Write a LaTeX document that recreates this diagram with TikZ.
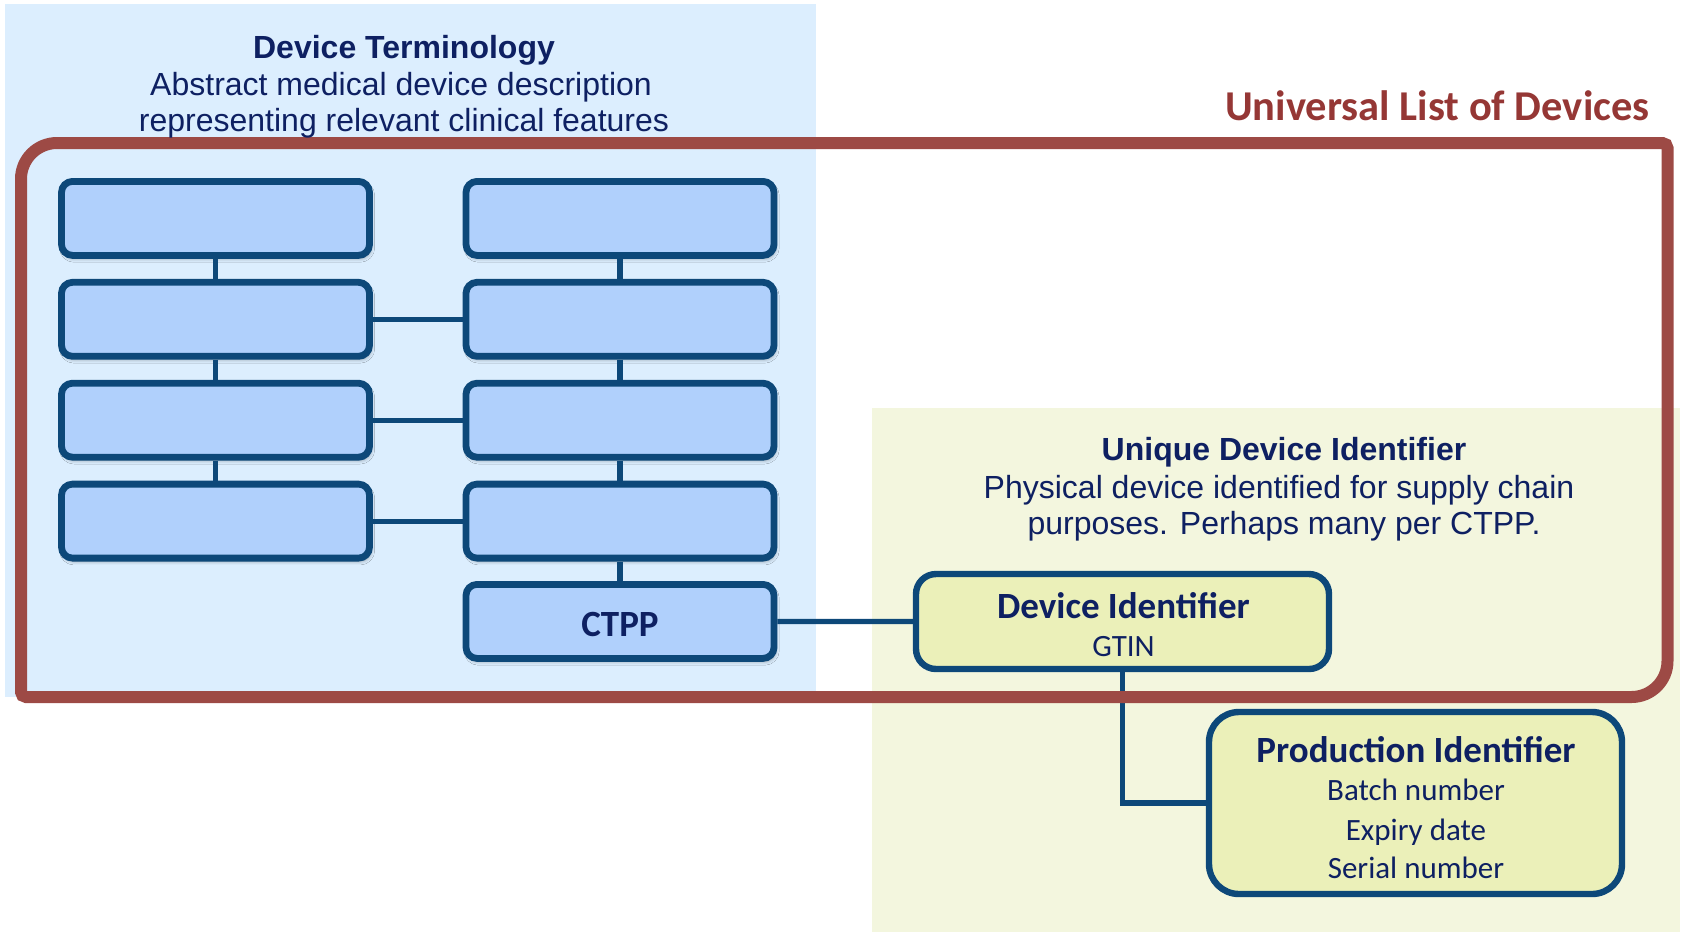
\documentclass[tikz,border=0pt]{standalone}
\usepackage{fontspec}
\setmainfont{Liberation Sans}
\newfontfamily\calibri{Carlito}
\usetikzlibrary{shadows.blur}

\definecolor{panelblue}{RGB}{220,238,254}
\definecolor{panelgreen}{RGB}{243,246,222}
\definecolor{boxfill}{RGB}{176,208,252}
\definecolor{boxedge}{RGB}{13,72,121}
\definecolor{idfill}{RGB}{235,240,185}
\definecolor{framered}{RGB}{157,74,69}
\definecolor{titlered}{RGB}{149,55,53}
\definecolor{navy}{RGB}{14,32,98}

\begin{document}
\begin{tikzpicture}[x=0.5pt,y=-0.5pt,
  termbox/.style={draw=boxedge, line width=3.4pt, fill=boxfill,
    rounded corners=5.5pt, minimum width=154pt, minimum height=37pt,
    inner sep=0pt,
    blur shadow={shadow xshift=0.8pt, shadow yshift=-1.6pt,
      shadow blur radius=1.8pt, shadow opacity=35}},
  idbox/.style={draw=boxedge, line width=3.2pt, fill=idfill, inner sep=0pt,
    minimum width=206.5pt},
  link/.style={draw=boxedge, line width=2.6pt},
  frame/.style={draw=framered, line width=6pt},
  arialtxt/.style={anchor=base, inner sep=0pt, text=navy,
    font=\fontsize{16}{18}\selectfont},
  ariatitle/.style={arialtxt, font=\fontsize{16}{18}\selectfont\bfseries},
  calbold/.style={anchor=base, inner sep=0pt, text=navy,
    font=\calibri\fontsize{18.5}{20}\selectfont\bfseries},
  calreg/.style={anchor=base, inner sep=0pt, text=navy,
    font=\calibri\fontsize{15.5}{18}\selectfont}]

\useasboundingbox (0,0) rectangle (1683,934);

% background panels
\fill[panelblue] (5,4) rectangle (816,697);
\fill[panelgreen] (872,408) rectangle (1680,932);

% device terminology hierarchy
\node[termbox] (l1) at (215.5,218.4) {};
\node[termbox] (l2) at (215.5,319.3) {};
\node[termbox] (l3) at (215.5,420.2) {};
\node[termbox] (l4) at (215.5,521.1) {};
\node[termbox] (r1) at (620,218.4) {};
\node[termbox] (r2) at (620,319.3) {};
\node[termbox] (r3) at (620,420.2) {};
\node[termbox] (r4) at (620,521.1) {};
\node[termbox] (ctpp) at (620,621.4) {};

% identifier boxes
\node[idbox, minimum height=47.5pt, rounded corners=10pt] (di) at (1122.5,621.5) {};
\node[idbox, minimum height=91pt, rounded corners=15pt] (pi) at (1415.5,803) {};

% connectors
\draw[link] (l1.south) -- (l2.north);
\draw[link] (l2.south) -- (l3.north);
\draw[link] (l3.south) -- (l4.north);
\draw[link] (r1.south) -- (r2.north);
\draw[link] (r2.south) -- (r3.north);
\draw[link] (r3.south) -- (r4.north);
\draw[link] (r4.south) -- (ctpp.north);
\draw[link] (l2.east) -- (r2.west);
\draw[link] (l3.east) -- (r3.west);
\draw[link] (l4.east) -- (r4.west);
\draw[link] (ctpp.east) -- (di.west);
\draw[link] (di.south) |- (pi.west);

% universal list frame: large radius top-left and bottom-right
\draw[frame] (21,179) arc[start angle=180, end angle=270, radius=36]
  -- (1662.5,143) arc[start angle=270, end angle=360, radius=5]
  -- (1667.5,661) arc[start angle=0, end angle=90, radius=36]
  -- (26,697) arc[start angle=90, end angle=180, radius=5]
  -- cycle;

% headings
\node[ariatitle] (dt-title) at (404,58) {Device Terminology};
\node[arialtxt] (dt-l1) at (401,95.5) {Abstract medical device description};
\node[arialtxt] (dt-l2) at (404,131) {representing relevant clinical features};

\node[ariatitle] (ud-title) at (1284,460) {Unique Device Identifier};
\node[arialtxt] (ud-l1) at (1279,498) {Physical device identified for supply chain};
\node[arialtxt] (ud-l2) at (1284,534.5) {purposes. Perhaps many per CTPP.};

\node[anchor=base east, inner sep=0pt, text=titlered,
  font=\calibri\fontsize{21.25}{24}\selectfont\bfseries]
  (ulod) at (1650,120) {Universal List of Devices};

% box texts
\node[calbold] (ctpp-label) at (620,636) {CTPP};
\node[calbold] (di-title) at (1123.5,618) {Device Identifier};
\node[calreg] (di-gtin) at (1123.5,656) {GTIN};
\node[calbold] (pi-title) at (1416,762) {Production Identifier};
\node[calreg] (pi-batch) at (1416,800.7) {Batch number};
\node[calreg] (pi-expiry) at (1416,840) {Expiry date};
\node[calreg] (pi-serial) at (1416,878) {Serial number};
\end{tikzpicture}
\end{document}
